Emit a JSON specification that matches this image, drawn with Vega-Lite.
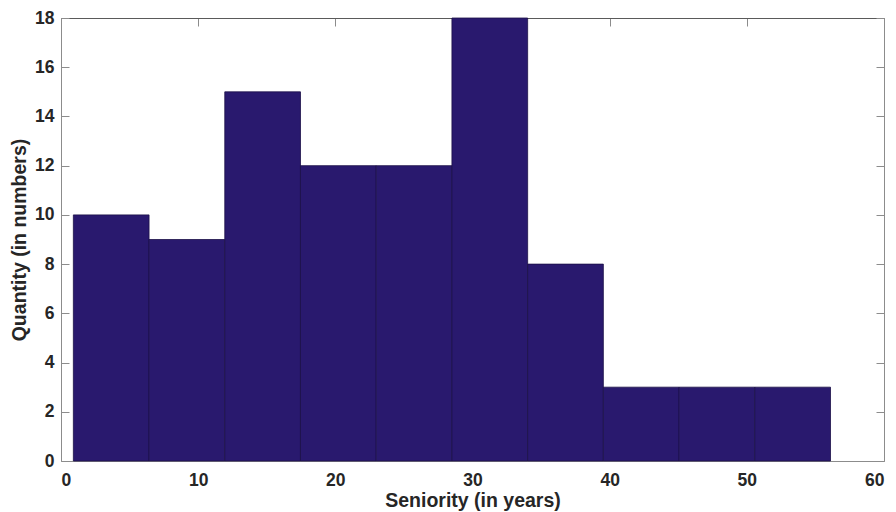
{
  "$schema": "https://vega.github.io/schema/vega-lite/v6.json",
  "width": 823,
  "height": 443,
  "autosize": {"type": "none"},
  "padding": {"left": 61, "top": 18, "right": 12, "bottom": 51},
  "background": "white",
  "config": {
    "view": {"stroke": null},
    "axis": {
      "labelFont": "Liberation Sans",
      "labelFontWeight": "bold",
      "labelFontSize": 17.5,
      "labelColor": "#262626",
      "titleFont": "Liberation Sans",
      "titleFontWeight": "bold",
      "titleFontSize": 19.5,
      "titleColor": "#262626",
      "domainColor": "#8c8c8c",
      "tickColor": "#8c8c8c",
      "tickSize": -8,
      "grid": false
    }
  },
  "data": {
    "values": [
      {"bin_start": 0.9, "bin_end": 6.42, "count": 10},
      {"bin_start": 6.42, "bin_end": 11.94, "count": 9},
      {"bin_start": 11.94, "bin_end": 17.46, "count": 15},
      {"bin_start": 17.46, "bin_end": 22.98, "count": 12},
      {"bin_start": 22.98, "bin_end": 28.5, "count": 12},
      {"bin_start": 28.5, "bin_end": 34.02, "count": 18},
      {"bin_start": 34.02, "bin_end": 39.54, "count": 8},
      {"bin_start": 39.54, "bin_end": 45.06, "count": 3},
      {"bin_start": 45.06, "bin_end": 50.58, "count": 3},
      {"bin_start": 50.58, "bin_end": 56.1, "count": 3}
    ]
  },
  "layer": [
    {
      "mark": {"type": "rect", "color": "#29196e", "stroke": "#1c1048", "strokeWidth": 0.8},
      "encoding": {
        "x": {
          "field": "bin_start", "type": "quantitative",
          "scale": {"domain": [0, 60], "nice": false},
          "axis": {"orient": "bottom", "values": [0, 10, 20, 30, 40, 50, 60], "title": "Seniority (in years)", "labelPadding": 18, "titlePadding": 3}
        },
        "x2": {"field": "bin_end"},
        "y": {
          "field": "count", "type": "quantitative",
          "scale": {"domain": [0, 18], "nice": false},
          "axis": {"orient": "left", "values": [0, 2, 4, 6, 8, 10, 12, 14, 16, 18], "title": "Quantity (in numbers)", "labelPadding": 15, "titlePadding": 5}
        },
        "y2": {"datum": 0}
      }
    },
    {
      "mark": {"type": "rect", "opacity": 0},
      "encoding": {
        "x": {
          "field": "bin_start", "type": "quantitative",
          "axis": {"orient": "top", "values": [0, 10, 20, 30, 40, 50, 60], "labels": false, "title": null, "domainColor": "#5a5a5a"}
        },
        "x2": {"field": "bin_end"},
        "y": {
          "field": "count", "type": "quantitative",
          "axis": {"orient": "right", "values": [0, 2, 4, 6, 8, 10, 12, 14, 16, 18], "labels": false, "title": null}
        },
        "y2": {"datum": 0}
      }
    }
  ],
  "resolve": {"axis": {"x": "independent", "y": "independent"}}
}
